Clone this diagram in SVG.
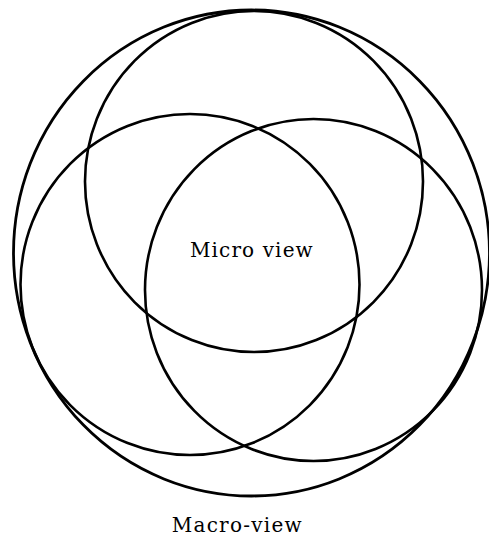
<svg xmlns="http://www.w3.org/2000/svg" width="489" height="541" viewBox="0 0 489 541">
  <style>
    .ring { fill: none; stroke: #000; stroke-width: 2.6; }
    .outer { fill: none; stroke: #000; stroke-width: 2.8; }
    .label { font-family: "DejaVu Serif", "Liberation Serif", serif; font-size: 20px; fill: #000; }
  </style>
  <rect width="489" height="541" fill="#fff"/>
  <g id="macro-view">
    <ellipse class="outer" cx="251.5" cy="253" rx="238" ry="243"/>
    <text class="label" x="171.7" y="532" textLength="130" lengthAdjust="spacing">Macro-view</text>
  </g>
  <g id="circle-top">
    <ellipse class="ring" cx="254" cy="181.5" rx="169" ry="170.5"/>
  </g>
  <g id="circle-left">
    <ellipse class="ring" cx="190" cy="284.5" rx="169.5" ry="170.5"/>
  </g>
  <g id="circle-right">
    <ellipse class="ring" cx="313.5" cy="290" rx="168.5" ry="171"/>
  </g>
  <g id="micro-view">
    <text class="label" x="190" y="257.3" textLength="122.7" lengthAdjust="spacing">Micro view</text>
  </g>
  <g id="connectors"/>
</svg>
